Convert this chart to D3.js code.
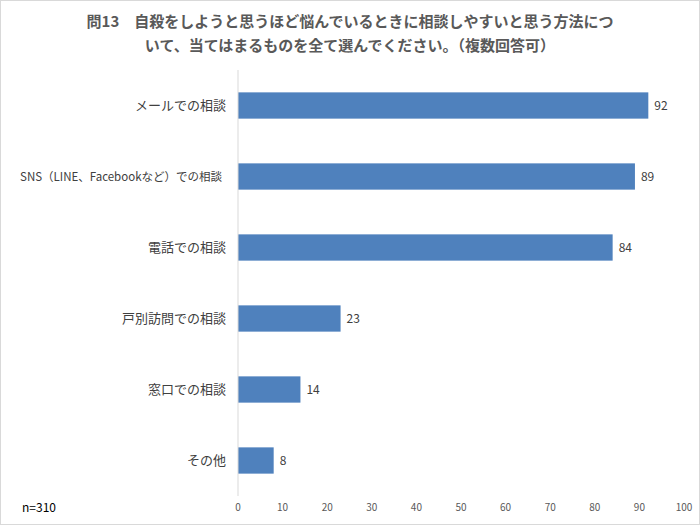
<!DOCTYPE html>
<html><head><meta charset="utf-8">
<script src="https://cdn.jsdelivr.net/npm/d3@7"></script>
<style>body{margin:0;background:#fff}</style>
</head><body>
<svg id="chart" width="700" height="525"></svg>
<script>
var categories = ['メールでの相談', 'SNS（LINE、Facebookなど）での相談', '電話での相談', '戸別訪問での相談', '窓口での相談', 'その他'];
var values = [92, 89, 84, 23, 14, 8];
var ticks = [0, 10, 20, 30, 40, 50, 60, 70, 80, 90, 100];
var titleLines = ['問13　自殺をしようと思うほど悩んでいるときに相談しやすいと思う方法につ', 'いて、当てはまるものを全て選んでください。（複数回答可）'];

var font = '"Noto Sans CJK JP", "Noto Sans", sans-serif';
var svg = d3.select('#chart').style('font-family', font);
svg.append('rect').attr('x', 0.5).attr('y', 0.5).attr('width', 699).attr('height', 524)
  .attr('fill', '#fff').attr('stroke', '#d9d9d9');

var x = d3.scaleLinear().domain([0, 100]).range([238, 684]);
var y = d3.scaleBand().domain(categories).range([70, 496]).paddingInner(0.63).paddingOuter(0.315);

svg.selectAll('text.title').data(titleLines).enter().append('text')
  .attr('x', 350).attr('y', function(d, i) { return 27 + i * 24; })
  .attr('text-anchor', 'middle').attr('font-size', 15).attr('font-weight', 'bold')
  .attr('fill', '#595959').text(function(d) { return d; });

svg.selectAll('rect.bar').data(values).enter().append('rect')
  .attr('x', x(0)).attr('y', function(d, i) { return y(categories[i]); })
  .attr('width', function(d) { return x(d) - x(0); }).attr('height', y.bandwidth())
  .attr('fill', '#4f81bd');

svg.selectAll('text.val').data(values).enter().append('text')
  .attr('x', function(d) { return x(d) + 6; })
  .attr('y', function(d, i) { return y(categories[i]) + y.bandwidth() / 2; })
  .attr('dy', '0.35em').attr('font-size', 12).attr('fill', '#404040')
  .text(function(d) { return d; });

svg.selectAll('text.cat').data(categories).enter().append('text')
  .attr('x', function(d, i) { return i == 1 ? 222 : 226; })
  .attr('y', function(d) { return y(d) + y.bandwidth() / 2; })
  .attr('dy', '0.35em').attr('text-anchor', 'end')
  .attr('font-size', function(d, i) { return i == 1 ? 11.5 : 13; }).attr('fill', '#404040')
  .text(function(d) { return d; });

svg.append('line').attr('x1', x(0)).attr('x2', x(0)).attr('y1', 70).attr('y2', 496)
  .attr('stroke', '#d9d9d9');

svg.selectAll('text.tick').data(ticks).enter().append('text')
  .attr('x', function(d) { return x(d); }).attr('y', 511)
  .attr('text-anchor', 'middle').attr('font-size', 10).attr('fill', '#595959')
  .text(function(d) { return d; });

svg.append('text').attr('x', 22).attr('y', 512).attr('font-size', 12).attr('fill', '#000').text('n=310');
</script>
</body></html>
